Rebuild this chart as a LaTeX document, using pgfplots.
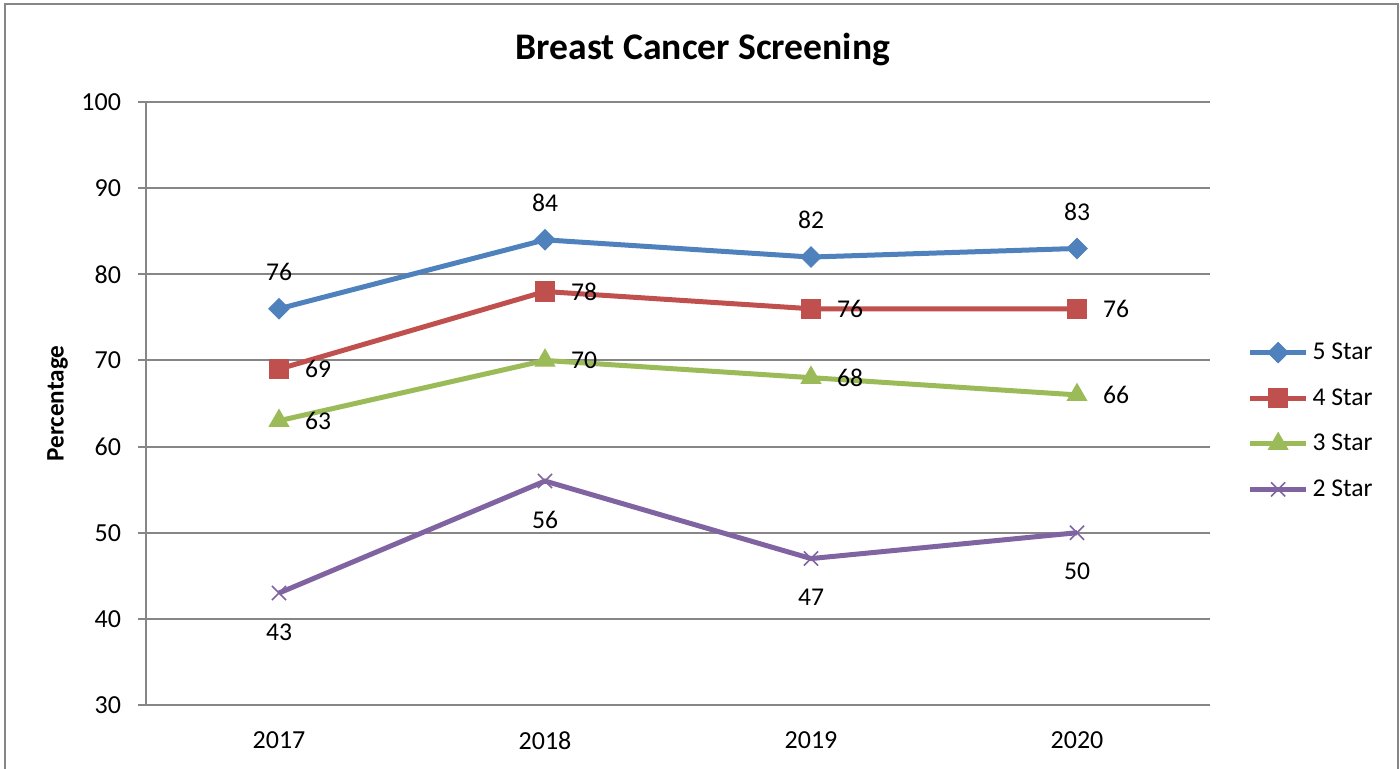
\documentclass[border=0pt]{standalone}
\usepackage{pgfplots}
\pgfplotsset{compat=1.18}
\usepackage{fontspec}
\setmainfont{Carlito}

\definecolor{cFive}{HTML}{4F81BD}
\definecolor{cFour}{HTML}{C0504D}
\definecolor{cThree}{HTML}{9BBB59}
\definecolor{cTwo}{HTML}{8064A2}
\definecolor{gridgray}{HTML}{868686}

\begin{document}
\begin{tikzpicture}
% picture frame (1px = 0.5pt, origin at plot's lower left)
\useasboundingbox (-73pt,-31.5pt) rectangle (627pt,352.5pt);
\draw[gridgray, line width=1pt] (-70.5pt,-40pt) -- (-70.5pt,350.5pt) -- (626pt,350.5pt) -- (626pt,-40pt);

\begin{axis}[
    at={(0pt,0pt)}, anchor=south west,
    scale only axis,
    width=532pt, height=301.5pt,
    font=\fontsize{13}{15.5}\selectfont,
    /pgf/number format/assume math mode=true,
    xmin=-0.5, xmax=3.5,
    ymin=30, ymax=100,
    ytick={30,40,...,100},
    xtick={0,1,2,3},
    xticklabels={2017,2018,2019,2020},
    xticklabel style={yshift=-6pt},
    yticklabel style={xshift=-5pt},
    major x tick style={draw=none},
    extra x ticks={-0.5,0.5,1.5,2.5,3.5},
    extra x tick labels={},
    extra x tick style={major tick length=4pt, tick style={gridgray, line width=1pt}},
    major tick length=4pt,
    tick align=outside,
    ytick style={gridgray, line width=1pt},
    axis x line*=bottom, axis y line*=left,
    axis line style={-, gridgray, line width=1pt},
    ymajorgrids,
    grid style={gridgray, line width=1pt},
    title={Breast Cancer Screening},
    title style={at={(axis description cs:0.5235,1.068)}, anchor=center, font=\fontsize{18.8}{22}\selectfont\bfseries},
    ylabel={Percentage},
    ylabel style={at={(axis description cs:-0.083,0.5)}, anchor=center, font=\fontsize{12.6}{15}\selectfont\bfseries},
    legend style={at={(axis description cs:1.035,0.471)}, anchor=west, draw=none, fill=none,
        row sep=9pt, font=\fontsize{12.8}{15}\selectfont, inner sep=0pt},
    legend cell align=left,
    legend image code/.code={
        \draw[mark repeat=2, mark phase=2] plot coordinates {(0pt,0pt) (14pt,0pt) (28pt,0pt)};
    },
    every axis plot/.append style={line width=2.5pt},
    nodes near coords,
    nodes near coords style={font=\fontsize{12.8}{15}\selectfont, text=black},
]

\addplot[color=cFive, mark=square*, mark size=3.6pt, mark options={rotate=45, line width=0.5pt},
    every node near coord/.append style={anchor=center, yshift=18.5pt}]
    coordinates {(0,76) (1,84) (2,82) (3,83)};
\addlegendentry{5 Star}

\addplot[color=cFour, mark=square*, mark size=4.8pt, mark options={line width=0.5pt},
    every node near coord/.append style={anchor=center, xshift=19.5pt}]
    coordinates {(0,69) (1,78) (2,76) (3,76)};
\addlegendentry{4 Star}

\addplot[color=cThree, mark=triangle*, mark size=5.6pt, mark options={line width=0.5pt},
    every node near coord/.append style={anchor=center, xshift=19.5pt}]
    coordinates {(0,63) (1,70) (2,68) (3,66)};
\addlegendentry{3 Star}

\addplot[color=cTwo, mark=x, mark size=5pt, mark options={line width=0.8pt},
    every node near coord/.append style={anchor=center, yshift=-19.5pt}]
    coordinates {(0,43) (1,56) (2,47) (3,50)};
\addlegendentry{2 Star}

\end{axis}
\end{tikzpicture}
\end{document}
